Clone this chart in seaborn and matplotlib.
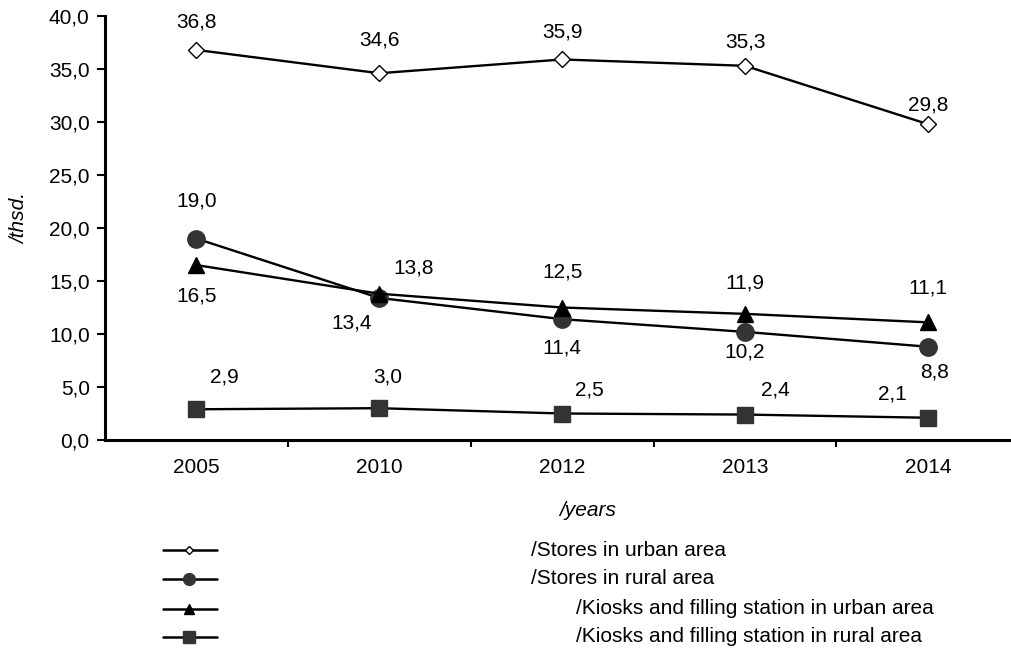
import matplotlib
matplotlib.use("Agg")
import matplotlib.pyplot as plt
from matplotlib.lines import Line2D
import numpy as np
import pandas as pd
import seaborn as sns

# data
years = ["2005", "2010", "2012", "2013", "2014"]
stores_urban = [36.8, 34.6, 35.9, 35.3, 29.8]
stores_rural = [19.0, 13.4, 11.4, 10.2, 8.8]
kiosks_urban = [16.5, 13.8, 12.5, 11.9, 11.1]
kiosks_rural = [2.9, 3.0, 2.5, 2.4, 2.1]
series_names = ["/Stores in urban area", "/Stores in rural area",
                "/Kiosks and filling station in urban area",
                "/Kiosks and filling station in rural area"]
y_ticks = [0, 5, 10, 15, 20, 25, 30, 35, 40]

sns.set_theme(style="white")
plt.rcParams['font.family'] = ['Liberation Sans', 'DejaVu Sans']
plt.rcParams['text.color'] = "black"
plt.rcParams['xtick.color'] = "black"
plt.rcParams['ytick.color'] = "black"
FS = 15

fig = plt.figure(figsize=(10.12, 6.56), dpi=100)
W, H = 1012, 656
ax = fig.add_axes([105 / W, 1 - 440 / H, (1012 - 105) / W, (440 - 16) / H])

x = np.arange(len(years))
# marker styles per series (marker, size, face colour)
styles = [
    ("D", 8, "white"),
    ("o", 12.5, "#333333"),
    ("^", 11.5, "black"),
    ("s", 12, "#333333"),
]
values = [stores_urban, stores_rural, kiosks_urban, kiosks_rural]
# label offsets in pixels (dx, dy)
offsets = [
    [(0, 28), (0, 33), (0, 27), (0, 24), (0, 19)],
    [(0, 38), (-28, -25), (0, -29), (0, -20), (7, -25)],
    [(0, -31), (34, 26), (0, 36), (0, 31), (0, 34)],
    [(28, 32), (8, 31), (27, 24), (30, 25), (-36, 24)],
]

for vals, (mk, ms, fc), offs in zip(values, styles, offsets):
    df = pd.DataFrame({"x": x, "y": vals})
    sns.lineplot(data=df, x="x", y="y", ax=ax, color="black", linewidth=1.7,
                 marker=mk, markersize=ms, markerfacecolor=fc,
                 markeredgecolor="black" if fc == "white" else fc,
                 markeredgewidth=1.0)
    for xi, v, (dx, dy) in zip(x, vals, offs):
        ax.annotate(f"{v:.1f}".replace(".", ","), (xi, v),
                    xytext=(dx * 0.72, dy * 0.72), textcoords="offset points",
                    ha="center", va="center", fontsize=FS, color="black")

ax.set_xlim(-0.5, 4.46)
ax.set_ylim(0, 40)
ax.set_yticks(y_ticks)
ax.set_yticklabels([f"{t:.1f}".replace(".", ",") for t in y_ticks], fontsize=FS)
ax.set_xticks(x)
ax.set_xticklabels(years, fontsize=FS)
ax.set_xticks([0.5, 1.5, 2.5, 3.5], minor=True)
ax.tick_params(axis="x", which="major", length=0, pad=13, labelcolor="black")
ax.tick_params(axis="x", which="minor", length=5, width=1.5, direction="out",
               bottom=True, color="black")
ax.tick_params(axis="y", length=6, width=1.5, direction="out", left=True,
               color="black", pad=5, labelcolor="black")
for s in ["top", "right"]:
    ax.spines[s].set_visible(False)
for s in ["left", "bottom"]:
    ax.spines[s].set_color("black")
    ax.spines[s].set_linewidth(2.2)
ax.set_xlabel("")
ax.set_ylabel("")

fig.text(20 / W, 1 - 218 / H, "/thsd.", rotation=90, style="italic",
         fontsize=FS, ha="center", va="center")
fig.text(588 / W, 1 - 510 / H, "/years", style="italic",
         fontsize=FS, ha="center", va="center")

# legend drawn by hand below the chart
leg_y = [550, 579, 609, 637]
leg_tx = [531, 531, 576, 576]
leg_ms = [4, 8.5, 6.5, 8.5]
for (mk, ms, fc), lms, name, ly, tx in zip(styles, leg_ms, series_names, leg_y, leg_tx):
    yy = 1 - ly / H
    fig.add_artist(Line2D([163 / W, 217 / W], [yy, yy], color="black",
                          linewidth=1.8, transform=fig.transFigure))
    fig.add_artist(Line2D([189 / W], [yy], marker=mk, markersize=lms,
                          markerfacecolor=fc,
                          markeredgecolor="black" if fc == "white" else fc,
                          markeredgewidth=1.0, linestyle="none",
                          transform=fig.transFigure))
    fig.text(tx / W, yy, name, fontsize=FS, ha="left", va="center")

fig.savefig("out.png", dpi=100)
